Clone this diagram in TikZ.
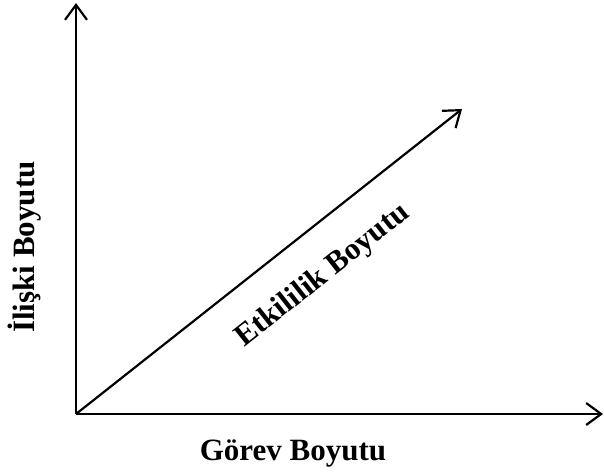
\documentclass[tikz,border=0pt]{standalone}
\usepackage{fontspec}
\setmainfont{Liberation Serif}
\usetikzlibrary{arrows.meta}
\begin{document}
\begin{tikzpicture}[x=1pt,y=-1pt,
  axis/.style={line width=2.2pt,-{Straight Barb[length=15pt,width=22pt,line width=2.2pt]}},
  lbl/.style={font=\fontsize{31}{36}\selectfont\bfseries,inner sep=0pt}]
\useasboundingbox (0,0) rectangle (604,472);
\coordinate (O) at (76,414);
\coordinate (Y) at (76,3);
\coordinate (X) at (603,414);
\coordinate (D) at (462,109);
\draw[axis] (O) -- (Y);
\draw[axis] (O) -- (X);
\draw[axis] (O) -- (D);
\node[lbl] (gorev) at (293,453) {Görev Boyutu};
\node[lbl,rotate=90] (iliski) at (25,247) {İlişki Boyutu};
\node[lbl,rotate=38.3] (etki) at (323,276) {Etkililik Boyutu};
\end{tikzpicture}
\end{document}
